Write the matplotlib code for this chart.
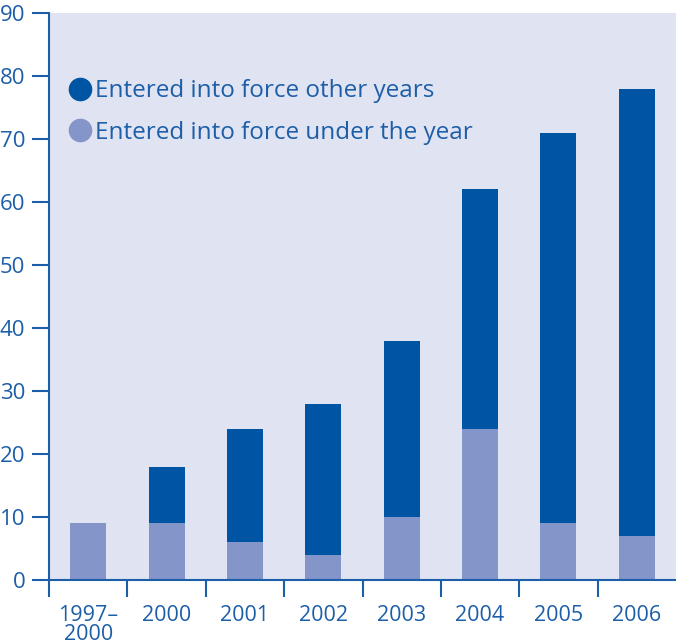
import matplotlib.pyplot as plt
from matplotlib.lines import Line2D

# data
years = ["1997–\n2000", "2000", "2001", "2002", "2003", "2004", "2005", "2006"]
under_year = [9, 9, 6, 4, 10, 24, 9, 7]
other_years = [0, 9, 18, 24, 28, 38, 62, 71]

dark = "#0054a4"
light = "#8495c9"
bg = "#e0e3f2"
ink = "#1d5ea8"

plt.rcParams['font.family'] = ['Open Sans', 'DejaVu Sans']

fig = plt.figure(figsize=(6.76, 6.44), dpi=100)
ax = fig.add_axes([49 / 676, 64 / 644, 627 / 676, 567 / 644])
ax.set_facecolor(bg)

x = list(range(len(years)))
ax.bar(x, under_year, width=0.46, color=light, zorder=2)
ax.bar(x, other_years, width=0.46, bottom=under_year, color=dark, zorder=2)

ax.set_xlim(-0.5, len(years) - 0.5)
ax.set_ylim(0, 90)
ax.set_yticks(range(0, 91, 10))
ax.tick_params(axis='y', length=12, width=1.5, color=ink, labelcolor=ink,
               labelsize=16, pad=5)

# year labels under bars, separators between categories
ax.set_xticks(x)
ax.set_xticklabels(years, fontsize=15.5, color=ink, linespacing=0.88, va='top')
ax.tick_params(axis='x', which='major', length=0, pad=18)
ax.set_xticks([i - 0.5 for i in x], minor=True)
ax.tick_params(axis='x', which='minor', length=12, width=1.5, color=ink)

for s in ['top', 'right']:
    ax.spines[s].set_visible(False)
for s in ['left', 'bottom']:
    ax.spines[s].set_color(ink)
    ax.spines[s].set_linewidth(1.5)

handles = [
    Line2D([], [], marker='o', ls='', color=dark, markersize=16),
    Line2D([], [], marker='o', ls='', color=light, markersize=16),
]
ax.legend(handles, ["Entered into force other years", "Entered into force under the year"],
          loc='upper left', bbox_to_anchor=(0.01, 0.905), frameon=False,
          fontsize=17.5, labelcolor=ink, handlelength=1.0, handletextpad=0.15,
          labelspacing=0.72, borderpad=0)

fig.savefig("out.png", dpi=100)
